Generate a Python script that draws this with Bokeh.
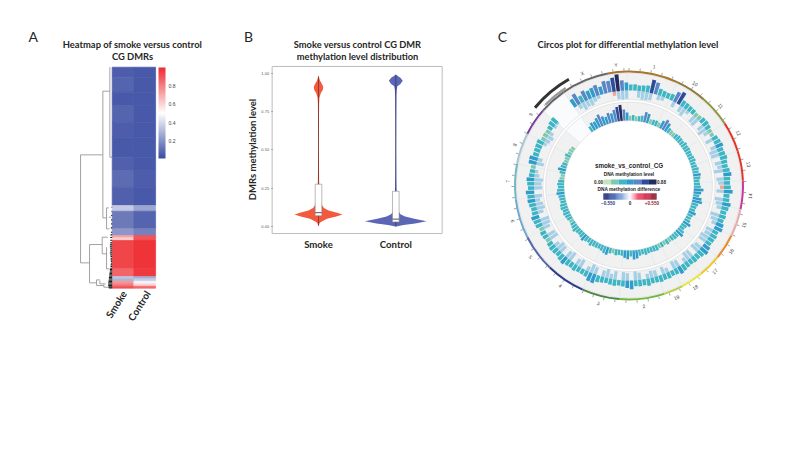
import numpy as np
from bokeh.embed import file_html
from bokeh.layouts import row
from bokeh.models import (ColorBar, ColumnDataSource, FixedTicker, Label,
                          LinearColorMapper, Range1d)
from bokeh.core.properties import value
from bokeh.plotting import figure
from bokeh.resources import INLINE

HEAD = "Lato"
SANS = "Liberation Sans"
INK = "#262626"

# ---------- Panel A data: heat bands (row counts and levels), tree, leaves
heat_rows = [30, 45, 40, 50, 45, 60, 40, 50, 55, 17, 53, 20, 7, 8, 85, 23, 7, 7, 8, 7, 6]
heat_smoke = [.06, .08, .05, .08, .06, .05, .07, .10, .07, .36, .14, .22, .72, .62, .93, .86, .35, .30, .75, .80, .90]
heat_control = [.05, .05, .05, .05, .05, .05, .05, .06, .05, .26, .08, .16, .90, .90, .97, .96, .28, .36, .48, .60, .85]
heat_names = ["Smoke", "Control"]
heat_ticks = [0.2, 0.4, 0.6, 0.8]
tree_h0 = [95, 95, 95, 28, 28, 28, 7, 7, 17, 17, 17, 10, 68, 68, 68, 30, 30, 30, 17, 17, 47, 47, 47, 37, 37, 25, 25]
tree_r0 = [263, 263, 587, 72, 72, 452, 0, 270, 422, 422, 485, 450, 532, 532, 647, 510, 510, 560, 540, 605, 638, 638, 655, 640, 650, 652, 660]
tree_h1 = [95, 28, 68, 28, 7, 17, 7, 0, 17, 10, 8, 4, 68, 30, 47, 30, 13, 17, 17, 8, 47, 37, 25, 37, 20, 25, 10]
tree_r1 = [587, 263, 587, 452, 72, 452, 270, 270, 485, 422, 485, 450, 647, 532, 647, 560, 510, 560, 605, 605, 655, 638, 655, 650, 650, 660, 660]
leaf_rows = [420, 432, 445, 458, 470, 482, 495, 503, 511, 519, 527, 533, 539, 545, 551, 557, 563, 568, 573, 578, 583, 588, 593, 598,
             603, 607, 611, 615, 619, 623, 627, 631, 635, 639, 643, 647, 651, 655, 659, 662]
leaf_len = [2, 2, 3, 3, 3, 4, 4, 5, 6, 6, 6, 7, 7, 6, 6, 7, 6, 5, 5, 5, 4, 4, 5, 5, 6, 7, 7, 8, 8, 9, 9, 10, 10, 11, 11, 12, 12, 12, 11, 10]

# ---------- Panel B data
vio_names = ["Smoke", "Control"]
vio_ticks = [0.0, 0.25, 0.5, 0.75, 1.0]
vio_tick_labels = ["0.00", "0.25", "0.50", "0.75", "1.00"]
smoke_y = [.005, .02, .03, .05, .065, .078, .09, .105, .12, .14, .17, .22, .30, .5, .7, .80, .84, .87, .89, .91, .93, .95, .98]
smoke_w = [.005, .012, .03, .11, .23, .31, .24, .13, .07, .045, .025, .015, .008, .005, .006, .008, .012, .03, .055, .062, .045, .02, .003]
control_y = [0, .01, .02, .035, .05, .065, .08, .10, .13, .18, .3, .5, .7, .85, .89, .915, .93, .95, .97, .98, .99]
control_w = [.005, .1, .25, .40, .24, .12, .06, .035, .02, .012, .007, .005, .006, .008, .012, .02, .06, .09, .06, .03, .003]
box_low = [.07, .03]
box_med = [.09, .048]
box_high = [.276, .23]

# ---------- Panel C data
chrom_names = ["1", "10", "11", "12", "13", "14", "15", "16", "17", "18", "19", "2", "3", "4", "5", "6", "7", "8", "9", "", "X", "Y"]
chrom_start = [-1, 25, 41, 57, 72.5, 87.5, 102, 116, 129, 141, 152, 162, 185, 204, 224, 243, 263, 281, 297, 311, 325, 349.3]
chrom_end = [25, 41, 57, 72.5, 87.5, 102, 116, 129, 141, 152, 162, 185, 204, 224, 243, 263, 281, 297, 311, 325, 349.3, 359]
chrom_label_at = [12, 33, 49, 64.3, 80, 95, 109, 122.8, 135, 147, 157, 173, 194.6, 214.5, 234, 253, 272, 289.6, 306, 318, 337.4, 353.8]
chrom_color = ["#a8752e", "#8c7a36", "#8f9640", "#e3342a", "#e3342a", "#c8389a", "#e3b0b0", "#ea8a2c", "#eec82c", "#e8e83c",
               "#b8d048", "#6eb83c", "#4a8a40", "#2c3c8c", "#5068a8", "#6fa8d0", "#6fb8c0", "#a6c6d0", "#7a3f9a", "#666666", "#666666", "#a8752e"]
ring1_level = [30, 32, 28, 30, 34, 68, 60, 34, 30, 28, 32, 55,
               66, 32, 30, 28, 26, 22, 24, 30, 32, 28, 22, 20,
               30, 34, 38, 30, 32, 36, 30, 28, 34, 40, 32, 30,
               34, 44, 30, 32, 42, 36, 30, 34, 30, 38, 42, 30,
               34, 32, 30, 38, 44, 36, 30, 32, 28, 30, 34, 40,
               30, 28, 32, 30, 34, 30, 28, 36, 30, 32, 30, 44,
               38, 30, 28, 32, 30, 26, 30, 34, 46, 44, 30, 28,
               28, 34, 30, 32, 40, 36, 28, 32, 34, 30, 24, 28,
               30, 24, 34, 36, 40, 30, 28, 34, 38, 36, 42, 30,
               34, 38, 28, 26, 24, 40, 42, 30, 32, 34, 36, 22,
               24, 22, 26, 34, 36, 0, 0, 0, 0, 0, 44, 60,
               36, 52, 42, 48, 55, 40, 62, 58, 70, 84, 52, 40]
ring1_diff = [0, 0, -40, -50, -50, -45, 0, -30, -25, 0, 0, -35,
              0, -40, -50, -20, 0, -45, -50, 0, -40, -55, -30, 0,
              -45, 0, -35, -50, -50, 0, -40, -30, -55, 0, -45, -35,
              25, -45, 0, -50, -40, -30, 0, -55, -45, -30, 0, -45,
              -40, -55, -50, 0, -45, -55, 0, -50, -55, -30, 0, -45,
              -50, 0, -30, -45, 0, -40, -45, -30, 0, -45, -55, 0,
              -45, -50, 0, -50, -30, -55, -40, 0, -45, -55, -30, 0,
              -50, -40, 0, -55, -45, 0, -45, -50, -30, 0, -55, -50,
              0, -40, -50, -55, 0, -35, -50, -45, -30, -45, 0, -50,
              -45, -55, -30, -20, 0, -45, -30, 0, 0, 0, -20, -30,
              -40, -25, 0, -15, -10, 0, 0, 0, 0, 0, 0, -30,
              -50, -40, -45, -30, -20, 0, 0, 0, 25, -50, -55, -50]
ring2_level = [24, 28, 22, 26, 30, 52, 46, 24, 26, 28, 24, 42,
               56, 46, 28, 24, 22, 26, 30, 28, 26, 32, 28, 30,
               28, 26, 30, 32, 26, 28, 34, 30, 38, 34, 28, 30,
               34, 48, 38, 30, 44, 50, 34, 30, 28, 38, 28, 26,
               30, 42, 30, 26, 36, 44, 28, 30, 26, 24, 28, 22,
               26, 24, 30, 28, 26, 28, 32, 26, 30, 42, 46, 30,
               44, 38, 28, 26, 30, 24, 28, 40, 36, 30, 26, 28,
               28, 34, 26, 30, 38, 30, 26, 28, 36, 30, 26, 24,
               28, 30, 34, 30, 36, 34, 28, 30, 32, 40, 36, 30,
               34, 30, 24, 20, 28, 40, 30, 26, 22, 24, 30, 22,
               24, 20, 0, 0, 0, 0, 0, 0, 0, 0, 30, 42,
               38, 50, 62, 46, 38, 52, 46, 60, 72, 80, 56, 40]
level_palette = ["#c6e3b9", "#7fc8b0", "#3cb6c4", "#2f9ccb", "#5b86c6", "#2f4b9c", "#232a5c"]
diff_palette = ["#23276f", "#3c5aa8", "#7ba0d8", "#ffffff", "#f04060", "#d02848", "#7e2030"]
level_max = 0.88
diff_max = 0.55
highlight_start = [309.6, 314.0]
highlight_end = [330.5, 327.0]
highlight_r0 = [120.5, 115.2]
highlight_r1 = [123.5, 117.4]
highlight_color = ["#333333", "#999999"]


def blend(c0, c1, f):
    a = [int(c0[i:i + 2], 16) for i in (1, 3, 5)]
    b = [int(c1[i:i + 2], 16) for i in (1, 3, 5)]
    return "#%02x%02x%02x" % tuple(int(round(x + (y - x) * f)) for x, y in zip(a, b))


def ramp(stops, n=256):
    out = []
    for k in range(n):
        pos = k / (n - 1) * (len(stops) - 1)
        i = min(int(pos), len(stops) - 2)
        out.append(blend(stops[i], stops[i + 1], pos - i))
    return out


def head(p, x, y, txt, size="9.4px", style="bold", align="center", color=INK, font=HEAD):
    p.add_layout(Label(x=x, y=y, text=txt, text_font=font, text_font_size=size, text_font_style=style,
                       text_align=align, text_baseline="middle", text_color=color))


def base_fig(w, h, xr, yr):
    p = figure(width=w, height=h, x_range=Range1d(*xr), y_range=Range1d(*yr), output_backend="svg",
               toolbar_location=None, min_border=0, outline_line_color=None)
    p.axis.visible = False
    p.grid.visible = False
    return p


# ---------- Panel A (page-pixel scale)
pa = base_fig(227, 434, (8, 235), (442, 8))
head(pa, 32.7, 35.7, "A", size="14px", style="normal")
head(pa, 132, 44, "Heatmap of smoke versus control")
head(pa, 132, 56, "CG DMRs")
HEAT_TOP, HEAT_X0, COL_W = 66.7, 111.7, 21.7
ROW_PX = 221 / sum(heat_rows)
heat_map = LinearColorMapper(palette=ramp(["#3a4ca2", "#ffffff", "#ee2a2f"]), low=0.013, high=0.995)
edges = HEAT_TOP + np.cumsum([0] + heat_rows) * ROW_PX
for c, vals in enumerate([heat_smoke, heat_control]):
    src = ColumnDataSource(dict(top=edges[:-1], bottom=edges[1:], v=vals))
    pa.quad(left=HEAT_X0 + c * COL_W, right=HEAT_X0 + (c + 1) * COL_W, top="top", bottom="bottom", source=src,
            fill_color={"field": "v", "transform": heat_map}, line_color={"field": "v", "transform": heat_map}, line_width=0.7)
TX = lambda h: HEAT_X0 - np.asarray(h) / 3
TY = lambda r: HEAT_TOP + np.asarray(r) / 3
pa.segment(TX(tree_h0), TY(tree_r0), TX(tree_h1), TY(tree_r1), line_color="#8c8c8c", line_width=0.8)
pa.segment(TX(leaf_len), TY(leaf_rows), TX([0] * len(leaf_rows)), TY(leaf_rows), line_color="#1c1c1c", line_width=1.1)
cb = ColorBar(color_mapper=heat_map, location=(150, 284), width=7, height=91, padding=0, margin=0,
              ticker=FixedTicker(ticks=heat_ticks), major_tick_line_color=None, minor_tick_line_color=None,
              major_label_text_font=SANS, major_label_text_font_size="5px", major_label_text_color="#444444",
              label_standoff=3, bar_line_color=None, border_line_color=None, background_fill_color=None)
pa.add_layout(cb, "center")
for c, name in enumerate(heat_names):
    pa.add_layout(Label(x=HEAT_X0 + (c + .5) * COL_W + (1 if c == 0 else 3), y=291, text=name, angle=58, angle_units="deg",
                        text_align="right", text_baseline="middle", text_font=HEAD, text_font_style="bold",
                        text_font_size="10px", text_color=INK))

# ---------- Panel B: scale is 77.3 px per category and 153.3 px per unit of level
pb = figure(width=245, height=434, x_range=Range1d(-0.074, 3.096), y_range=Range1d(-1.409, 1.422), output_backend="svg",
            toolbar_location=None, min_border=0, outline_line_color=None)
pb.grid.visible = False
FRAME_L, FRAME_R, FRAME_B, FRAME_T = 0.4, 2.6, -0.046, 1.044
pb.quad(left=[FRAME_L], right=[FRAME_R], bottom=[FRAME_B], top=[FRAME_T], fill_color=None, line_color="#bdbdbd", line_width=1)
pb.xaxis.fixed_location = FRAME_B
pb.yaxis.fixed_location = FRAME_L
pb.xaxis.ticker = FixedTicker(ticks=[1, 2])
pb.xaxis.major_label_overrides = {1: vio_names[0], 2: vio_names[1]}
pb.xaxis.major_tick_line_color = None
pb.xaxis.minor_tick_line_color = None
pb.xaxis.major_tick_in = 0
pb.xaxis.major_tick_out = 0
pb.xaxis.axis_line_color = None
pb.xaxis.major_label_text_font = HEAD
pb.xaxis.major_label_text_font_style = "bold"
pb.xaxis.major_label_text_font_size = "9.6px"
pb.xaxis.major_label_text_color = INK
pb.xaxis.major_label_standoff = 5
pb.yaxis.ticker = FixedTicker(ticks=vio_ticks)
pb.yaxis.major_label_overrides = dict(zip(vio_ticks, vio_tick_labels))
pb.yaxis.axis_line_color = None
pb.yaxis.minor_tick_line_color = None
pb.yaxis.major_tick_in = 0
pb.yaxis.major_tick_out = 1
pb.yaxis.major_tick_line_color = "#777777"
pb.yaxis.major_label_text_font = SANS
pb.yaxis.major_label_text_font_size = "4px"
pb.yaxis.major_label_text_color = "#555555"
pb.yaxis.major_label_standoff = 2
pb.add_layout(Label(x=17, y=293, x_units="screen", y_units="screen", text="DMRs methylation level", angle=90, angle_units="deg",
                    text_font=HEAD, text_font_style="bold", text_font_size="9.5px", text_color=INK,
                    text_align="center", text_baseline="middle"))
for c, (yy, ww, col, dark) in enumerate([(smoke_y, smoke_w, "#f2593e", "#6d2a28"), (control_y, control_w, "#5b66b5", "#2f3562")], start=1):
    yy, ww = np.array(yy), np.array(ww)
    pb.harea(x1=c - ww, x2=c + ww, y=yy, fill_color=col)
    pb.segment([c], [yy[0]], [c], [yy[-1]], line_color=dark, line_width=0.7)
    b = c - 1
    pb.quad(left=c - .043, right=c + .043, bottom=box_low[b], top=box_high[b], fill_color="#ffffff", line_color="#8a8a8a", line_width=0.6)
    pb.segment([c - .043], [box_med[b]], [c + .043], [box_med[b]], line_color="#555555", line_width=1)
pb.add_layout(Label(x=13, y=406, x_units="screen", y_units="screen", text="B", text_font=HEAD, text_font_size="14px",
                    text_color=INK, text_align="center", text_baseline="middle"))
for txt, sy in [("Smoke versus control CG DMR", 398), ("methylation level distribution", 386)]:
    pb.add_layout(Label(x=122, y=sy, x_units="screen", y_units="screen", text=txt, text_font=HEAD, text_font_size="9.3px",
                        text_font_style="bold", text_color=INK, text_align="center", text_baseline="middle"))

# ---------- Panel C (circle at the origin)
pc = base_fig(312, 434, (-148.5, 163.5), (-257, 177))
head(pc, -126.5, 149, "C", size="14px", style="normal")
head(pc, -1, 141, "Circos plot for differential methylation level")


def wedge(p, t0, t1, r0, r1, c):
    src = ColumnDataSource(dict(a0=np.radians(90 - np.asarray(t1, float)), a1=np.radians(90 - np.asarray(t0, float)),
                                r0=r0, r1=r1, c=c))
    p.annular_wedge(x=0, y=0, inner_radius="r0", outer_radius="r1", start_angle="a0", end_angle="a1", source=src,
                    fill_color="c", line_color=None)


n = len(chrom_start)
pale = ["#fafbfd" if name == "" else "#f1f1f1" for name in chrom_names]
for R0, R1 in [(86, 112.5), (65, 83.5)]:
    wedge(pc, chrom_start, chrom_end, [R0] * n, [R1] * n, pale)
    pc.annulus(x=0, y=0, inner_radius=R0, outer_radius=R1, fill_color=None, line_color="#d9d9d9", line_width=0.6)
    ca = np.radians(90 - np.array(chrom_start))
    pc.segment(R0 * np.cos(ca), R0 * np.sin(ca), R1 * np.cos(ca), R1 * np.sin(ca), line_color="#d3e8ec", line_width=0.6)

BIN, BW = 2.5, 2.05
lvl_map = LinearColorMapper(palette=level_palette, low=0, high=level_max)
t_all = np.arange(len(ring1_level)) * BIN

d = np.array(ring1_diff) / 100
keep = d != 0
R1BASE, R2BASE, LVPX = 95.0, 65.0, 20.0
wedge(pc, t_all[keep], t_all[keep] + BW, R1BASE - np.abs(d[keep]) / diff_max * 9, np.full(keep.sum(), R1BASE),
      ["#f4a58a" if v > 0 else "#a5cfe6" for v in d[keep]])
for lev, base in [(ring1_level, R1BASE), (ring2_level, R2BASE)]:
    L = np.array(lev) / 100
    k = L > 0
    src = ColumnDataSource(dict(a0=np.radians(90 - (t_all[k] + BW)), a1=np.radians(90 - t_all[k]),
                                r0=np.full(k.sum(), base), r1=base + L[k] * LVPX, v=L[k]))
    pc.annular_wedge(x=0, y=0, inner_radius="r0", outer_radius="r1", start_angle="a0", end_angle="a1", source=src,
                     fill_color={"field": "v", "transform": lvl_map}, line_color=None)

wedge(pc, chrom_start, chrom_end, [113] * n, [115] * n, chrom_color)
ta = np.radians(90 - np.arange(0, 360, 5.5))
pc.segment(115 * np.cos(ta), 115 * np.sin(ta), 117.5 * np.cos(ta), 117.5 * np.sin(ta), line_color="#4a4a4a", line_width=0.5)
lab_t = np.array(chrom_label_at)
rot = np.where((lab_t > 90) & (lab_t < 270), 180 - lab_t, -lab_t)
pc.text(x=121.5 * np.sin(np.radians(lab_t)), y=121.5 * np.cos(np.radians(lab_t)), text=chrom_names, angle=np.radians(rot),
        text_align="center", text_baseline="middle", text_font=value(SANS), text_font_size="5px", text_color="#444444")
wedge(pc, highlight_start, highlight_end, highlight_r0, highlight_r1, highlight_color)

head(pc, 0, 20, "smoke_vs_control_CG", size="6.3px", font=SANS)
head(pc, 0, 11, "DNA methylation level", size="4.8px", font=SANS)
head(pc, 0, -4, "DNA methylation difference", size="4.8px", font=SANS)
BX0, BX1 = -25.5, 27.5
lev_edges = np.linspace(BX0, BX1, len(level_palette) + 1)
pc.quad(left=lev_edges[:-1], right=lev_edges[1:], top=6, bottom=1, fill_color=level_palette, line_color=None)
grad = ramp(diff_palette, 60)
grad_edges = np.linspace(BX0, BX1, 61)
pc.quad(left=grad_edges[:-1], right=grad_edges[1:], top=-8, bottom=-14, fill_color=grad, line_color=grad, line_width=0.2)
head(pc, BX0 - 0.5, 3.5, "%.2f" % 0, size="4.6px", align="right", font=SANS)
head(pc, BX1 + 0.5, 3.5, "%.2f" % level_max, size="4.6px", align="left", font=SANS)
head(pc, -28, -17.5, "\u2212%.3f" % diff_max, size="4.6px", font=SANS, align="left", color="#2c3a8c")
head(pc, 1, -17.5, "0", size="4.6px", font=SANS)
head(pc, 30, -17.5, "+%.3f" % diff_max, size="4.6px", font=SANS, align="right", color="#8e2436")

page = row(pa, pb, pc, spacing=0, margin=(8, 0, 0, 8))
open("out.html", "w").write(file_html(page, INLINE))
